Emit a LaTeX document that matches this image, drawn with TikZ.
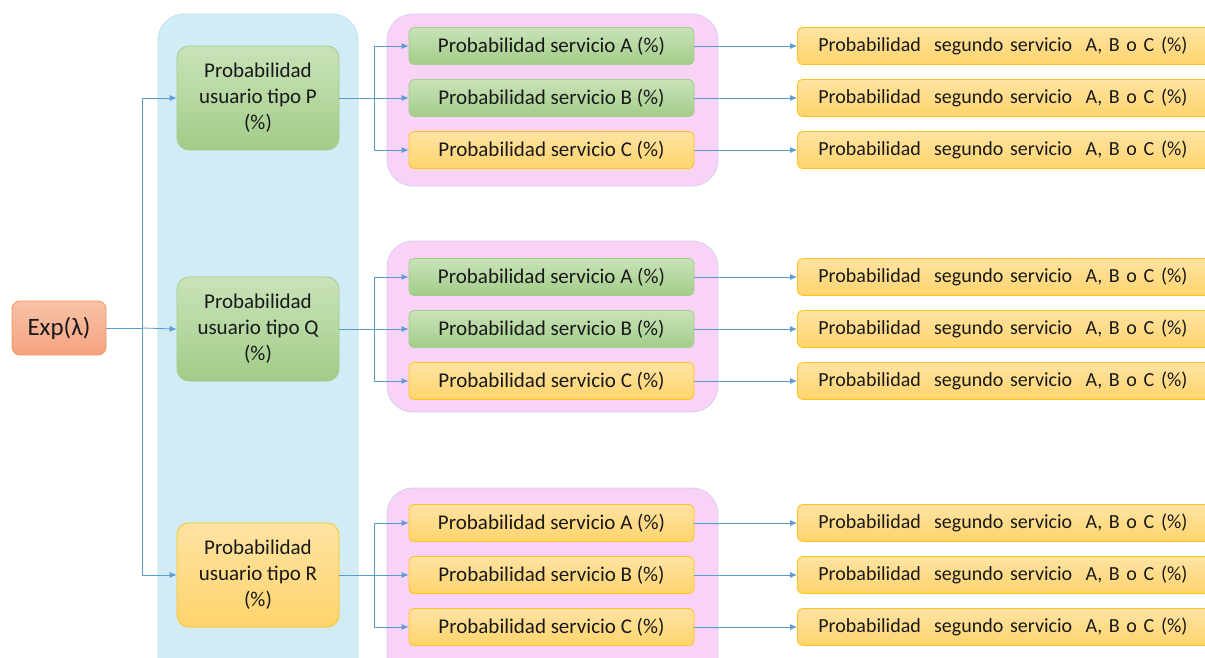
\documentclass[tikz,border=0pt]{standalone}
\usepackage{fontspec}
\setmainfont{Carlito}
\usetikzlibrary{arrows.meta}
\definecolor{grTop}{HTML}{C9E3B9}
\definecolor{grBot}{HTML}{A2CC88}
\definecolor{grLine}{HTML}{A3CB8B}
\definecolor{orTop}{HTML}{FFE3A3}
\definecolor{orBot}{HTML}{FFD46C}
\definecolor{orLine}{HTML}{FFC21F}
\definecolor{exTop}{HTML}{F8C2A6}
\definecolor{exBot}{HTML}{F4A380}
\definecolor{exLine}{HTML}{F0965F}
\definecolor{blFill}{HTML}{D1ECF4}
\definecolor{blLine}{HTML}{BDE1F0}
\definecolor{pkFill}{HTML}{F9D3F6}
\definecolor{pkLine}{HTML}{D8CDF0}
\definecolor{arrowblue}{HTML}{5B9BD5}
\tikzset{
  txt/.style={font=\fontsize{21}{26}\selectfont, text=black!90},
  green/.style={draw=grLine, top color=grTop, bottom color=grBot},
  orange/.style={draw=orLine, top color=orTop, bottom color=orBot},
  usr/.style={txt, rounded corners=12pt, minimum width=162pt, minimum height=104pt, align=center, inner sep=0pt, line width=0.8pt},
  svc/.style={txt, rounded corners=5pt, minimum width=285pt, minimum height=37pt, inner sep=0pt, line width=0.8pt},
  sec/.style={txt, orange, font=\fontsize{20}{26}\selectfont, rounded corners=5pt, anchor=west, minimum width=430pt, minimum height=37pt, text width=395pt, inner xsep=21pt, inner ysep=0pt, align=left, line width=0.8pt},
  arr/.style={draw=arrowblue, line width=0.8pt, -{Latex[length=7pt,width=6pt]}},
  link/.style={draw=arrowblue, line width=0.8pt},
  bluepanel/.style={draw=blLine, fill=blFill, rounded corners=26pt, line width=0.8pt},
  pinkpanel/.style={draw=pkLine, fill=pkFill, rounded corners=26pt, line width=0.8pt}
}
\begin{document}
\begin{tikzpicture}[x=1pt,y=-1pt]
\useasboundingbox (0,0) rectangle (1205,657);
\clip (0,0) rectangle (1205,657);
\fill[white] (0,0) rectangle (1205,657);

% column panel holding the user types
\draw[bluepanel] (158,14) rectangle (358,690);

% source node
\node[txt, draw=exLine, top color=exTop, bottom color=exBot, rounded corners=8pt,
      minimum width=94pt, minimum height=54pt, inner sep=0pt, line width=0.8pt,
      font=\fontsize{25}{28}\selectfont] (exp) at (59,328) {Exp(λ)};
\coordinate (split) at (142,328);

\foreach \g/\uy/\pt/\pb/\cu/\ca/\cb/\cc in {
    P/98/14/186/green/green/green/orange,
    Q/329/241/412/green/green/green/orange,
    R/575/488/700/orange/orange/orange/orange} {
  % pink panel with the three services
  \draw[pinkpanel] (387,\pt) rectangle (718,\pb);
  % user type
  \node[usr, \cu] (u\g) at (258,\uy) {Probabilidad\\usuario tipo \g\\(\%)};
  % services
  \node[svc, \ca] (a\g) at (551.5,\uy-52) {Probabilidad servicio A (\%)};
  \node[svc, \cb] (b\g) at (551.5,\uy) {Probabilidad servicio B (\%)};
  \node[svc, \cc] (c\g) at (551.5,\uy+52) {Probabilidad servicio C (\%)};
  % second service
  \node[sec] (sa\g) at (797,\uy-52) {Probabilidad\ \ segundo servicio\ \ A, B o C (\%)};
  \node[sec] (sb\g) at (797,\uy) {Probabilidad\ \ segundo servicio\ \ A, B o C (\%)};
  \node[sec] (sc\g) at (797,\uy+52) {Probabilidad\ \ segundo servicio\ \ A, B o C (\%)};
  % connectors
  \coordinate (fork\g) at (374,\uy);
  \draw[link] (u\g.east) -- (fork\g);
  \draw[arr] (fork\g) -- (b\g.west);
  \draw[arr] (fork\g) |- (a\g.west);
  \draw[arr] (fork\g) |- (c\g.west);
  \draw[arr] (a\g.east) -- (sa\g.west);
  \draw[arr] (b\g.east) -- (sb\g.west);
  \draw[arr] (c\g.east) -- (sc\g.west);
}

% source to user types
\draw[link] (exp.east) -- (split);
\draw[arr] (split) -- (uQ.west);
\draw[arr] (split) |- (uP.west);
\draw[arr] (split) |- (uR.west);
\end{tikzpicture}
\end{document}
